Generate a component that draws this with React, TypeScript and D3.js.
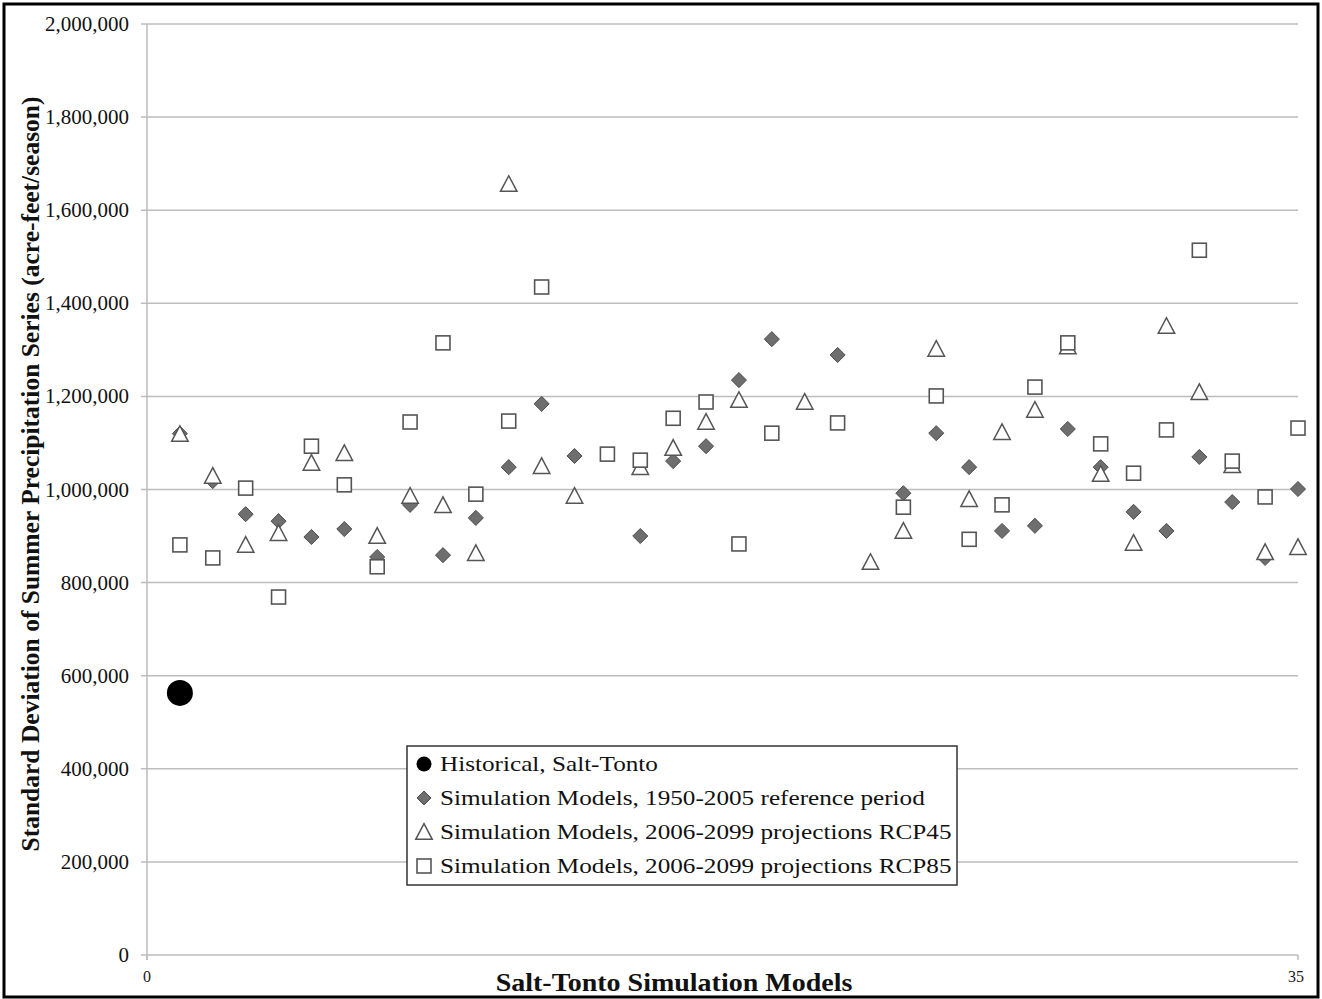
import React from "react";
import * as d3 from "d3";

// Model index on the x axis (1..35)
const models: number[] = d3.range(1, 36);

// Observed series
const historical: { model: number; value: number }[] = [{ model: 1, value: 563000 }];

// Simulation models, 1950-2005 reference period (null = not plotted)
const reference1950: (number | null)[] = [
  1120000, 1018000, 947000, 932000, 898000, 915000, 855000, 967000, 859000, 939000,
  1048000, 1184000, 1072000, null, 900000, 1061000, 1093000, 1235000, 1323000, null,
  1289000, null, 992000, 1121000, 1048000, 911000, 922000, 1130000, 1048000, 952000,
  911000, 1070000, 973000, 853000, 1001000,
];

// Simulation models, 2006-2099 projections RCP45
const rcp45: (number | null)[] = [
  1117000, 1027000, 879000, 904000, 1055000, 1076000, 898000, 984000, 964000, 861000,
  1654000, 1048000, 984000, null, 1046000, 1087000, 1143000, 1190000, null, 1186000,
  null, 842000, 909000, 1300000, 977000, 1121000, 1169000, 1305000, 1031000, 883000,
  1349000, 1207000, 1050000, 863000, 874000,
];

// Simulation models, 2006-2099 projections RCP85
const rcp85: (number | null)[] = [
  881000, 853000, 1003000, 769000, 1093000, 1010000, 834000, 1145000, 1315000, 990000,
  1147000, 1435000, null, 1076000, 1063000, 1153000, 1188000, 883000, 1121000, null,
  1143000, null, 962000, 1201000, 893000, 967000, 1220000, 1315000, 1098000, 1035000,
  1128000, 1514000, 1061000, 984000, 1132000,
];

const yTicks: number[] = [0, 200000, 400000, 600000, 800000, 1000000, 1200000, 1400000, 1600000, 1800000, 2000000];
const xTicks: number[] = [0, 35];

const legendLabels: string[] = [
  "Historical, Salt-Tonto",
  "Simulation Models, 1950-2005 reference period",
  "Simulation Models, 2006-2099 projections RCP45",
  "Simulation Models, 2006-2099 projections RCP85",
];

const yTitle = "Standard Deviation of Summer Precipitation Series (acre-feet/season)";
const xTitle = "Salt-Tonto Simulation Models";

const W = 1322;
const H = 999;
const FONT = "'Liberation Serif', 'Times New Roman', serif";

const x = d3.scaleLinear().domain([0, 35]).range([147, 1298]);
const y = d3.scaleLinear().domain([0, 2000000]).range([955, 24]);
const fmt = d3.format(",");

const GRID = "#bdbdbd";
const DIAMOND_FILL = "#6e6e6e";
const DIAMOND_STROKE = "#4e4e4e";
const OPEN_STROKE = "#555";

const trianglePath = (s: number) => `M0,${-s * 0.62}L${s * 0.55},${s * 0.42}L${-s * 0.55},${s * 0.42}Z`;

function Diamond({ cx, cy, area = 145 }: { cx: number; cy: number; area?: number }) {
  return (
    <path
      d={d3.symbol(d3.symbolDiamond2, area)() as string}
      transform={`translate(${cx},${cy})`}
      fill={DIAMOND_FILL}
      stroke={DIAMOND_STROKE}
      strokeWidth={1}
    />
  );
}

function Triangle({ cx, cy, s = 15 }: { cx: number; cy: number; s?: number }) {
  return (
    <path d={trianglePath(s)} transform={`translate(${cx},${cy})`} fill="#fff" stroke={OPEN_STROKE} strokeWidth={1.5} />
  );
}

function Square({ cx, cy, s = 14 }: { cx: number; cy: number; s?: number }) {
  return (
    <rect x={cx - s / 2} y={cy - s / 2} width={s} height={s} fill="#fff" stroke={OPEN_STROKE} strokeWidth={1.6} />
  );
}

// Horizontally widened text, anchored at (tx, ty)
function WideText({
  tx, ty, k, anchor = "start", size, weight = "normal", children,
}: {
  tx: number; ty: number; k: number; anchor?: string; size: number; weight?: string; children: React.ReactNode;
}) {
  return (
    <text
      transform={`translate(${tx},${ty}) scale(${k},1)`}
      textAnchor={anchor}
      dy="0.35em"
      fontSize={size}
      fontWeight={weight}
      fill="#111"
    >
      {children}
    </text>
  );
}

export default function App() {
  const pts = (arr: (number | null)[]) =>
    models
      .map((m, i) => ({ m, v: arr[i] }))
      .filter((d) => d.v !== null) as { m: number; v: number }[];

  const legendX = 407;
  const legendY = 746;
  const legendW = 550;
  const legendH = 139;
  const rowH = 34;

  return (
    <svg
      width={W}
      height={H}
      style={{ position: "absolute", left: 0, top: 0, background: "#fff" }}
      fontFamily={FONT}
    >
      <rect x={0} y={0} width={W} height={H} fill="#fff" />
      {/* horizontal gridlines with short tick marks to the left */}
      {yTicks.map((t) => (
        <g key={t}>
          <line x1={141} x2={x(35)} y1={y(t)} y2={y(t)} stroke={GRID} strokeWidth={1.5} />
          <WideText tx={129} ty={y(t)} k={1.05} anchor="end" size={20}>
            {fmt(t)}
          </WideText>
        </g>
      ))}
      {/* vertical axis line */}
      <line x1={x(0)} x2={x(0)} y1={y(2000000)} y2={y(0) + 5} stroke={GRID} strokeWidth={1.5} />
      {/* x ticks */}
      {xTicks.map((t) => (
        <g key={t}>
          <line x1={x(t)} x2={x(t)} y1={y(0)} y2={y(0) + 5} stroke={GRID} strokeWidth={1.5} />
          <text x={x(t) - (t === 35 ? 2 : 0)} y={982} textAnchor="middle" fontSize={16} fill="#1a1a1a">
            {t}
          </text>
        </g>
      ))}

      {/* series, drawn in series order */}
      {historical.map((d) => (
        <circle key={d.model} cx={x(d.model)} cy={y(d.value)} r={13} fill="#000" />
      ))}
      {pts(reference1950).map((d) => (
        <Diamond key={`d${d.m}`} cx={x(d.m)} cy={y(d.v)} />
      ))}
      {pts(rcp45).map((d) => (
        <Triangle key={`t${d.m}`} cx={x(d.m)} cy={y(d.v)} />
      ))}
      {pts(rcp85).map((d) => (
        <Square key={`s${d.m}`} cx={x(d.m)} cy={y(d.v)} />
      ))}

      {/* legend */}
      <rect x={legendX} y={legendY} width={legendW} height={legendH} fill="#fff" stroke="#333" strokeWidth={1.5} />
      {legendLabels.map((label, i) => {
        const cy = legendY + 18 + i * rowH;
        const mx = legendX + 17;
        return (
          <g key={label}>
            {i === 0 && <circle cx={mx} cy={cy} r={7.5} fill="#000" />}
            {i === 1 && <Diamond cx={mx} cy={cy} area={125} />}
            {i === 2 && <Triangle cx={mx} cy={cy + 1} s={15} />}
            {i === 3 && <Square cx={mx} cy={cy} s={14} />}
            <WideText tx={legendX + 33} ty={cy} k={1.2} size={21}>
              {label}
            </WideText>
          </g>
        );
      })}

      {/* axis titles */}
      <text
        transform="translate(30,474) rotate(-90)"
        textAnchor="middle"
        dy="0.35em"
        fontSize={25.5}
        fontWeight="bold"
        fill="#111"
      >
        {yTitle}
      </text>
      <WideText tx={674} ty={982} k={1.12} anchor="middle" size={25} weight="bold">
        {xTitle}
      </WideText>

      {/* outer frame */}
      <rect x={4} y={4} width={W - 8} height={H - 6} fill="none" stroke="#000" strokeWidth={3} />
    </svg>
  );
}
